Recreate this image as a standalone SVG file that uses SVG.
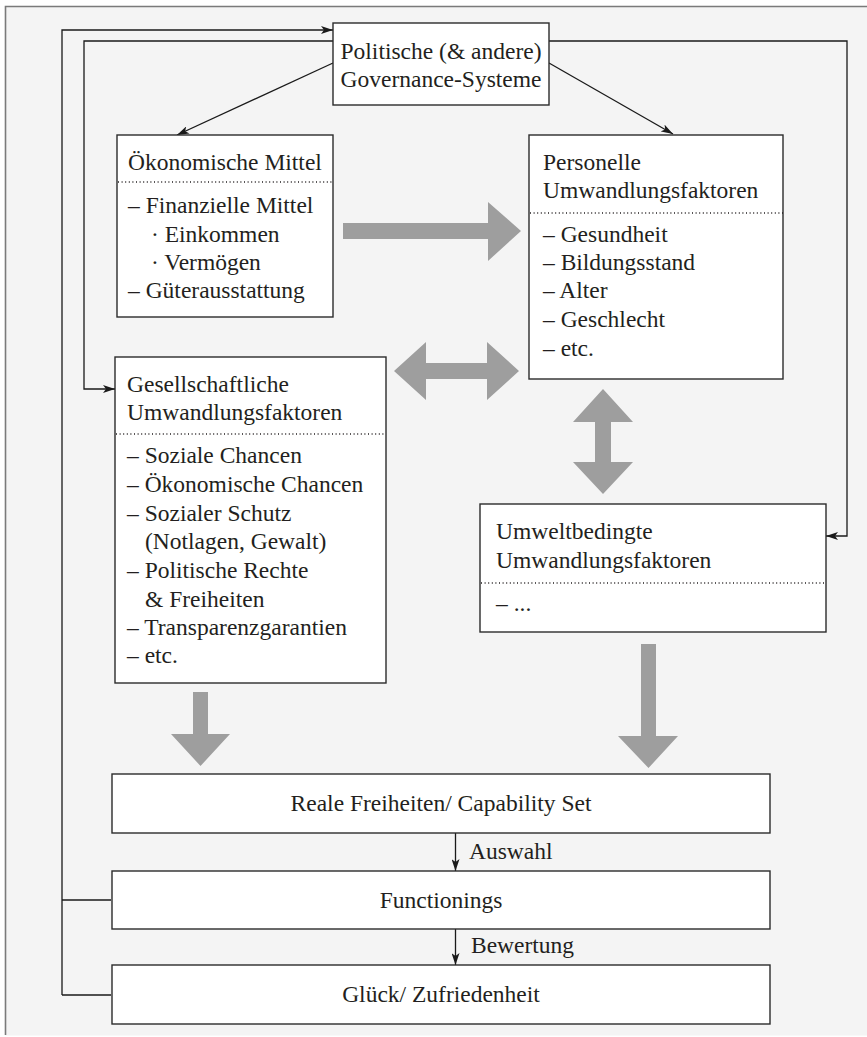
<svg xmlns="http://www.w3.org/2000/svg" width="867" height="1037" viewBox="0 0 867 1037">
<style>
.box{fill:#fff;stroke:#2b2b2b;stroke-width:1.4}
.t{font-family:'Liberation Serif','Times New Roman',Times,'DejaVu Serif',serif;font-size:23.5px;fill:#231f20}
.c{text-anchor:middle}
.dot{stroke:#231f20;stroke-width:1.3;stroke-dasharray:1 2.6;fill:none}
.ln{stroke:#1a1a1a;stroke-width:1.3;fill:none}
.big{fill:#9e9e9e}
</style>
<defs>
<marker id="ah" viewBox="0 0 12 8" refX="12" refY="4" markerWidth="12" markerHeight="8" markerUnits="userSpaceOnUse" orient="auto">
<path d="M0,0 L12,4 L0,8 L3,4 z" fill="#1a1a1a"/>
</marker>
</defs>
<rect x="0" y="0" width="867" height="1037" fill="#ffffff"/>
<rect x="5.5" y="6.5" width="870" height="1029" fill="#f4f4f4"/>
<path d="M5.5,1035 V6.5 H867" fill="none" stroke="#7a7a7a" stroke-width="1.6"/>

<g id="connectors">
<path class="ln" d="M62,995 V30 H333" marker-end="url(#ah)"/>
<path class="ln" d="M62,900 H111"/>
<path class="ln" d="M62,995 H111"/>
<path class="ln" d="M333,41 H84 V389 H115" marker-end="url(#ah)"/>
<path class="ln" d="M549,41 H847 V536 H826" marker-end="url(#ah)"/>
<path class="ln" d="M333,63 L177,135" marker-end="url(#ah)"/>
<path class="ln" d="M549,63 L673,134" marker-end="url(#ah)"/>
<path class="ln" d="M455.5,833 V871" marker-end="url(#ah)"/>
<path class="ln" d="M455.5,929 V965" marker-end="url(#ah)"/>
<text class="t" font-family="Liberation Serif, serif" x="469" y="859">Auswahl</text>
<text class="t" font-family="Liberation Serif, serif" x="471" y="953">Bewertung</text>
<polygon class="big" points="343,223 488,223 488,202 521,231 488,261 488,239 343,239"/>
<polygon class="big" points="394,371 426,342 426,363 487,363 487,342 519,371 487,400 487,379 426,379 426,400"/>
<polygon class="big" points="603,389 633,422 611,422 611,462 633,462 603,494 573,462 595,462 595,422 573,422"/>
<polygon class="big" points="193,692 208,692 208,734 230,734 200.5,766 171,734 193,734"/>
<polygon class="big" points="641,644 656,644 656,736 678,736 648.5,768 618,736 641,736"/>
</g>

<g id="governance">
<rect class="box" x="333" y="23" width="216" height="82"/>
<text class="t c" x="441" y="59">Politische (&amp; andere)</text>
<text class="t c" x="441" y="87">Governance-Systeme</text>
</g>

<g id="oekonomische">
<rect class="box" x="117" y="135" width="216" height="182"/>
<text class="t" x="128" y="170">Ökonomische Mittel</text>
<line class="dot" x1="118" y1="182" x2="333" y2="182"/>
<text class="t" x="128" y="213">– Finanzielle Mittel</text>
<text class="t" x="151" y="242">· Einkommen</text>
<text class="t" x="151" y="270">· Vermögen</text>
<text class="t" x="128" y="298">– Güterausstattung</text>
</g>

<g id="personelle">
<rect class="box" x="529" y="135" width="254" height="244"/>
<text class="t" x="543" y="170">Personelle</text>
<text class="t" x="543" y="198">Umwandlungsfaktoren</text>
<line class="dot" x1="530" y1="213" x2="783" y2="213"/>
<text class="t" x="543" y="242">– Gesundheit</text>
<text class="t" x="543" y="270">– Bildungsstand</text>
<text class="t" x="543" y="298">– Alter</text>
<text class="t" x="543" y="327">– Geschlecht</text>
<text class="t" x="543" y="356">– etc.</text>
</g>

<g id="gesellschaftliche">
<rect class="box" x="115" y="357" width="271" height="326"/>
<text class="t" x="127" y="392">Gesellschaftliche</text>
<text class="t" x="127" y="420">Umwandlungsfaktoren</text>
<line class="dot" x1="116" y1="434" x2="386" y2="434"/>
<text class="t" x="127" y="463">– Soziale Chancen</text>
<text class="t" x="127" y="492">– Ökonomische Chancen</text>
<text class="t" x="127" y="521">– Sozialer Schutz</text>
<text class="t" x="145" y="549">(Notlagen, Gewalt)</text>
<text class="t" x="127" y="578">– Politische Rechte</text>
<text class="t" x="145" y="607">&amp; Freiheiten</text>
<text class="t" x="127" y="635">– Transparenzgarantien</text>
<text class="t" x="127" y="663">– etc.</text>
</g>

<g id="umwelt">
<rect class="box" x="480" y="504" width="346" height="128"/>
<text class="t" x="496" y="539">Umweltbedingte</text>
<text class="t" x="496" y="568">Umwandlungsfaktoren</text>
<line class="dot" x1="481" y1="583" x2="826" y2="583"/>
<text class="t" x="496" y="611">– ...</text>
</g>

<g id="capability">
<rect class="box" x="112" y="774" width="658" height="59"/>
<text class="t c" x="441" y="811">Reale Freiheiten/ Capability Set</text>
</g>

<g id="functionings">
<rect class="box" x="112" y="871" width="658" height="58"/>
<text class="t c" x="441" y="908">Functionings</text>
</g>

<g id="glueck">
<rect class="box" x="112" y="965" width="658" height="59"/>
<text class="t c" x="441" y="1002">Glück/ Zufriedenheit</text>
</g>
</svg>
